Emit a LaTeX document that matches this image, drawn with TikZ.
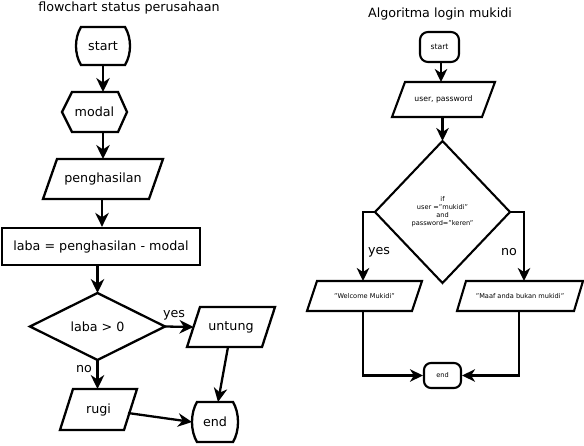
\documentclass[tikz,border=0pt]{standalone}
\usepackage{fontspec}
\setmainfont{DejaVu Sans}
\usetikzlibrary{arrows.meta}
\newcommand\mybarrel[1]{\draw[outl] ([xshift=5pt]#1.north west) -- ([xshift=-5pt]#1.north east) .. controls ([shift={(1.67,11)}]#1.north east) and ([shift={(1.67,-11)}]#1.south east) .. ([xshift=-5pt]#1.south east) -- ([xshift=5pt]#1.south west) .. controls ([shift={(-1.67,-11)}]#1.south west) and ([shift={(-1.67,11)}]#1.north west) .. cycle;}
\newcommand\mypara[3]{\draw[#3] ([xshift=#2]#1.north west) -- (#1.north east) -- ([xshift=-#2]#1.south east) -- (#1.south west) -- cycle;}
\begin{document}
\begin{tikzpicture}[x=1pt,y=-1pt,
  box/.style={draw=none, inner sep=0pt, outer sep=0pt},
  big/.style={font=\fontsize{12.7}{15}\selectfont},
  mid/.style={font=\fontsize{7.7}{9}\selectfont},
  small/.style={font=\fontsize{6.6}{8}\selectfont},
  outl/.style={line width=2.3pt, line join=miter},
  outr/.style={line width=2.1pt, line join=miter},
  arr/.style={line width=2.3pt, -{Stealth[length=14pt,width=13.5pt,inset=4.5pt]}},
  arrr/.style={line width=2.1pt, -{Stealth[length=13pt,width=12.5pt,inset=4pt]}},
  lbl/.style={inner sep=0pt, big}
]
\useasboundingbox[fill=white] (0,0) rectangle (584,445);

% ---------- left chart ----------
\node[lbl] (t1) at (129,8) {flowchart status perusahaan};
\node[box, big, minimum width=54pt, minimum height=38pt] (s1) at (103,46) {start};
\mybarrel{s1}
\node[box, big, minimum width=65pt, minimum height=40pt] (mo) at (94.5,112) {modal};
\draw[outl] ([xshift=10pt]mo.north west) -- ([xshift=-9pt]mo.north east) -- (mo.east) -- ([xshift=-9pt]mo.south east) -- ([xshift=10pt]mo.south west) -- (mo.west) -- cycle;
\node[box, big, minimum width=120pt, minimum height=40pt] (pe) at (103,179) {penghasilan};
\mypara{pe}{14pt}{outl}
\node[draw, outl, big, inner sep=0pt, minimum width=198pt, minimum height=37pt] (la) at (101,246.5) {laba = penghasilan - modal};
\node[box, big, minimum width=135pt, minimum height=67pt] (d1) at (97.5,326.5) {laba > 0};
\draw[outl] (d1.north) -- (d1.east) -- (d1.south) -- (d1.west) -- cycle;
\node[box, big, minimum width=88pt, minimum height=40pt] (un) at (231,327) {untung};
\mypara{un}{13pt}{outl}
\node[box, big, minimum width=77pt, minimum height=41pt] (ru) at (98.5,409.5) {rugi};
\mypara{ru}{13pt}{outl}
\node[box, big, minimum width=46pt, minimum height=40pt] (e1) at (215,422) {end};
\mybarrel{e1}
\node[lbl] (y1) at (174,315.5) {yes};
\node[lbl] (n1) at (84,369) {no};

\draw[arr] (s1.south) -- (s1.south |- mo.north);
\draw[arr] (pe.north |- mo.south) -- (pe.north);
\draw[arr] ([xshift=-1pt]pe.south) -- ([xshift=-1pt]pe.south |- la.north);
\draw[arr] (d1.north |- la.south) -- (d1.north);
\draw[arr] (d1.east) -- ([xshift=6.5pt]un.west);
\draw[arr] (d1.south) -- (d1.south |- ru.north);
\draw[arr] ([xshift=-3pt]un.south) -- ([xshift=3pt]e1.north);
\draw[arr] ([shift={(-9,3.5)}]ru.east) -- (e1.west);

% ---------- right chart ----------
\node[lbl] (t2) at (440,13.5) {Algoritma login mukidi};
\node[draw, outr, mid, rounded corners=8pt, inner sep=0pt, minimum width=39pt, minimum height=30pt] (s2) at (439.5,47) {start};
\node[box, mid, minimum width=103pt, minimum height=35pt] (us) at (443.5,99.5) {user, password};
\mypara{us}{13pt}{outr}
\node[box, small, align=center, minimum width=135pt, minimum height=142pt] (d2) at (442.5,212) {if\\user ="mukidi"\\and\\password="keren"};
\draw[outr] (d2.north) -- (d2.east) -- (d2.south) -- (d2.west) -- cycle;
\node[box, small, minimum width=115pt, minimum height=30pt] (we) at (364.5,296) {"Welcome Mukidi"};
\mypara{we}{10pt}{outr}
\node[box, small, minimum width=126pt, minimum height=30pt] (ma) at (520,296) {"Maaf anda bukan mukidi"};
\mypara{ma}{9pt}{outr}
\node[draw, outr, small, rounded corners=7pt, inner sep=0pt, minimum width=37pt, minimum height=25pt] (e2) at (442.5,375.5) {end};
\node[lbl] (y2) at (379,252) {yes};
\node[lbl] (n2) at (509,252) {no};

\draw[arrr] ([xshift=1.5pt]s2.south) -- ([xshift=1.5pt]s2.south |- us.north);
\draw[arrr] (d2.north |- us.south) -- (d2.north);
\draw[arrr] (d2.west) -| ([xshift=-1.5pt]we.north);
\draw[arrr] (d2.east) -| ([xshift=4pt]ma.north);
\draw[arrr] ([xshift=-1.5pt]we.south) |- (e2.west);
\draw[arrr] ([xshift=-1pt]ma.south) |- (e2.east);
\end{tikzpicture}
\end{document}
